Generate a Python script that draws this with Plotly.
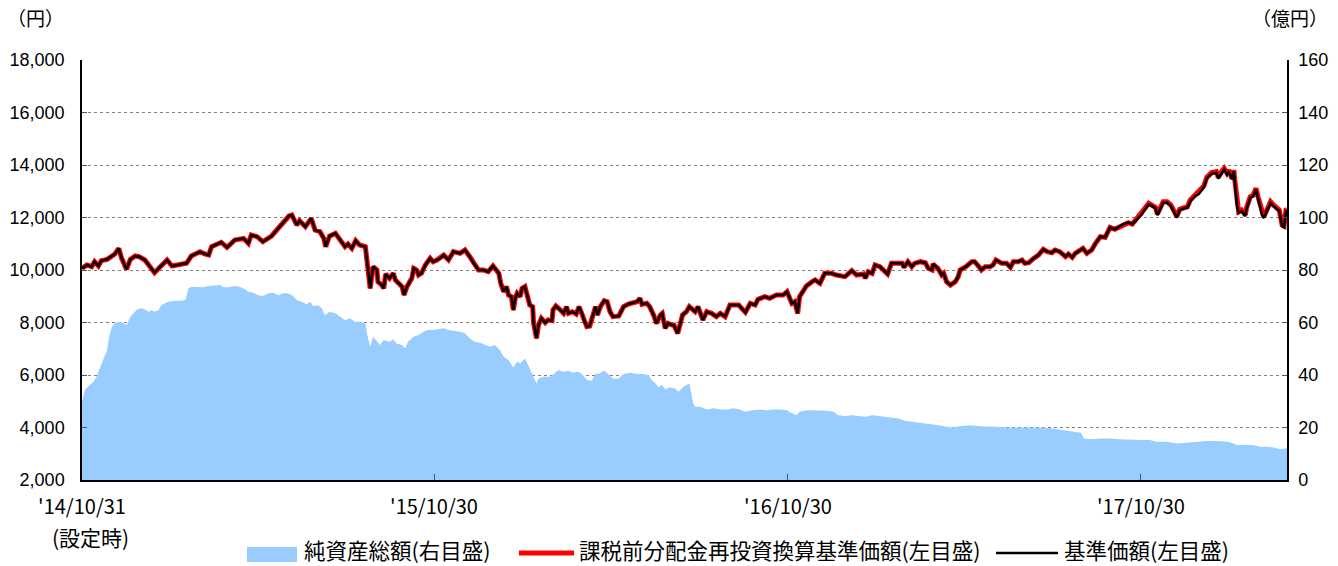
import pandas as pd
import plotly.graph_objects as go

# ---------------- data ----------------
launch_date = "2014-10-31"

# days since launch for the price series
price_days = [
    0, 5, 10, 13, 17, 20, 26, 31, 34, 38, 41, 46, 50, 55, 59, 65, 69, 75, 81, 88,
    93, 98, 108, 113, 122, 127, 131, 134, 144, 150, 158, 167, 172, 175, 181, 187, 196, 205, 214,
    217, 222, 225, 231, 237, 241, 246, 250, 252, 256, 262, 267, 272, 275, 279, 283, 287, 293, 295,
    298, 301, 305, 306, 310, 312, 314, 318, 322, 324, 327, 331, 333, 336, 341, 343, 346, 348, 351,
    355, 360, 363, 367, 370, 374, 379, 384, 391, 396, 401, 405, 410,
    415, 420, 425, 431, 433, 436, 439, 441, 444, 446, 448, 450, 453, 455, 458, 461, 463, 466, 467,
    470, 472, 475, 479, 482, 486, 487, 490, 494, 498, 501, 503, 507, 511, 514, 517, 519, 522, 525,
    528, 531, 533, 536, 540, 543, 546, 549, 555, 558, 560, 565, 568, 574, 577, 579, 584, 587, 591,
    594, 598, 600, 603, 606, 610, 612, 616, 618, 621, 625, 628,
    634, 637, 642, 646, 651, 656, 660, 665, 670, 679, 686, 691, 696, 699, 706, 711, 718, 725, 729,
    734, 737, 740, 742, 749, 755, 758, 763, 768, 775, 780, 789, 796, 801, 808, 810, 813, 817, 820, 825,
    830, 833, 837, 842, 848, 850, 854, 858, 861, 867, 872, 875, 879, 880, 885, 889, 891, 894, 898,
    903, 906, 908, 914, 920, 923, 928, 930, 934, 939, 942, 945, 951, 956, 960, 963, 968, 972, 975,
    979, 984, 989, 994, 998, 1003, 1006, 1011, 1017, 1020, 1024, 1027, 1030, 1035, 1039,
    1044, 1048, 1053, 1058, 1063, 1068, 1072, 1077, 1082, 1086,
    1091, 1096, 1099, 1103, 1106, 1110, 1112, 1115, 1118, 1122, 1126, 1129, 1132, 1135, 1139, 1143,
    1146, 1151, 1155, 1160, 1163, 1168, 1173, 1175, 1179, 1181, 1184, 1186, 1189, 1191, 1192, 1194,
    1196, 1199, 1203, 1204, 1208, 1211, 1214, 1216, 1220, 1222, 1226, 1229, 1232, 1236, 1238, 1241,
    1243, 1245, 1246,
]

# 課税前分配金再投資換算基準価額 (円)
reinvested_price = [
    10063, 10190, 10127, 10317, 10152, 10355, 10406, 10533, 10609, 10825, 10444, 10025, 10406, 10533,
    10508, 10381, 10190, 9898, 10127, 10381, 10152, 10190, 10254, 10533, 10698, 10609, 10571, 10889,
    11054, 10863, 11143, 11206, 11016, 11333, 11270, 11079, 11295, 11676, 12057,
    12095, 11714, 11879, 11650, 11968, 11523, 11460, 11206, 10889, 11295, 11396, 11143, 10889, 10990,
    10825, 11117, 10952, 10889, 10317, 9301, 10127, 10000, 9555, 9428, 9301, 9847, 9682, 9873, 9619,
    9492, 9365, 9047, 9365, 9682, 10063, 10000, 9809, 9873, 10190, 10444, 10317, 10381, 10444, 10571,
    10381, 10698, 10635, 10762, 10508, 10254, 10000,
    10000, 9936, 10152, 9873, 9492, 9174, 9365, 9047, 8984, 8476, 8920, 9111, 8984, 9301, 9365, 8920,
    8666, 8603, 7968, 7397, 7905, 8158, 7993, 8095, 8070, 8476, 8628, 8501, 8349, 8603, 8349, 8412,
    8324, 8603, 8349, 8095, 7841, 7866, 8222, 8603, 8286, 8603, 8832, 8793, 8412, 8222, 8247, 8501,
    8603, 8705, 8730, 8793, 8920, 8692, 8730, 8603, 8286, 7968, 8286, 8349, 7778, 7968, 7905, 7905,
    7587, 7841, 8286, 8412, 8603,
    8412, 8603, 8095, 8412, 8349, 8222, 8349, 8222, 8666, 8666, 8387, 8730, 8666, 8882, 8984, 8920,
    9047, 9047, 9174, 8730, 8793, 8349, 8984, 9390, 9555, 9619, 9492, 9873, 9873, 9809, 9746, 9974,
    9809, 9847, 9682, 9936, 9873, 10190, 10127,
    9974, 9847, 10254, 10254, 10254, 10101, 10317, 10127, 10254, 10317, 10279, 10063, 10000, 10228,
    10063, 9809, 9873, 9555, 9428, 9555, 9746, 10000, 10127, 10317, 10317, 10101, 10000, 10127, 10127,
    10190, 10381, 10254, 10254, 10101, 10317, 10317, 10381, 10254, 10279, 10444, 10571, 10787, 10698,
    10660, 10762, 10698, 10508, 10609, 10482, 10635, 10698, 10825, 10635,
    10762, 11016, 11270, 11244, 11625, 11549, 11625, 11752, 11803, 11752,
    11968, 12158, 12349, 12539, 12476, 12387, 12133, 12349, 12603, 12603, 12476, 12260, 12031, 12311,
    12387, 12412, 12666, 12857, 12946, 13200, 13530, 13708, 13746, 13530, 13784, 13873, 13682, 13809,
    13492, 13809, 13428, 12539, 12222, 12285, 12095, 12349, 12793, 12857, 13111, 12793, 12158, 12031,
    12349, 12603, 12476, 12349, 12285, 11714, 11676, 12285, 12300,
]

# 基準価額 (円): identical to the reinvested series until the last months, where it sits slightly lower
base_price_tail = [
    11930, 12120, 12310, 12500, 12440, 12350, 12090, 12310, 12560, 12560, 12430, 12220, 11990, 12270,
    12350, 12370, 12620, 12810, 12900, 13150, 13480, 13660, 13700, 13480, 13740, 13830, 13640, 13760,
    13450, 13760, 13380, 12490, 12170, 12240, 12050, 12300, 12750, 12810, 13060, 12750, 12110, 11980,
    12300, 12560, 12430, 12300, 12240, 11670, 11630, 12240, 12250,
]
base_price = reinvested_price[:len(reinvested_price) - len(base_price_tail)] + base_price_tail

# days since launch for net assets
asset_days = [
    0, 3, 7, 12, 15, 19, 22, 26, 28, 31, 34, 38, 43, 46, 50, 53, 57, 62, 65, 69, 72, 75, 79, 82, 89,
    96, 101, 107, 110, 113, 120, 125, 131, 138, 143, 146, 151, 158, 163, 169, 172, 177, 182, 187, 193,
    198, 203, 208,
    212, 217, 222, 227, 232, 236, 239, 244, 248, 251, 256, 262, 267, 272, 277, 282, 287, 293, 295, 298,
    301, 305, 308, 312, 318, 322, 325, 331, 334, 337, 343, 348, 353, 358, 363, 368, 374, 379, 384, 391,
    396, 401, 406,
    412, 417, 422, 427, 432, 436, 441, 446, 450, 453, 458, 463, 467, 470, 472, 477, 484, 489, 493, 498,
    503, 508, 513, 517, 522, 527, 531, 534, 540, 544, 549, 555, 560, 567, 574, 580, 586, 589, 593, 596,
    600, 603, 608, 613, 617, 622, 628,
    632, 634, 639, 646, 653, 660, 667, 674, 680, 686, 693, 701, 708, 715, 722, 729, 734, 739, 742, 749,
    756, 763, 770, 777, 782, 789, 796, 803, 810, 817, 825,
    836, 843, 851, 860, 868, 877, 886, 894, 899, 908, 918, 929, 939, 946, 956, 967, 977, 987, 994, 1001,
    1008, 1015, 1023, 1033, 1036, 1043, 1053, 1063, 1073, 1084, 1094, 1104, 1111, 1122, 1132, 1142,
    1153, 1163, 1173, 1184, 1191, 1194, 1204, 1211, 1218, 1225, 1232, 1239, 1246,
]

# 純資産総額 (億円)
net_assets = [
    29.8, 34.3, 35.8, 37.4, 39.3, 43.1, 46.3, 49.5, 54.6, 58.4, 59.7, 60.3, 59.7, 59.0, 62.2, 63.5,
    65.0, 65.4, 65.0, 64.1, 64.7, 64.1, 64.7, 66.6, 67.9, 68.3, 68.3, 68.6, 73.0, 73.6, 73.6, 73.4,
    73.9, 74.3, 74.3, 73.4, 73.4, 73.9, 73.6, 72.6, 71.7, 71.3, 70.4, 70.1, 71.1, 71.3, 70.4, 71.1,
    71.1, 70.5, 68.6, 67.9, 67.0, 67.9, 66.3, 66.6, 65.4, 62.8, 64.1, 63.5, 62.2, 60.9, 61.6, 60.3,
    60.3, 59.7, 55.2, 50.8, 54.6, 52.7, 51.4, 53.3, 52.7, 53.6, 52.0, 51.4, 50.1, 52.7, 54.6, 55.2,
    56.5, 57.1, 57.1, 57.4, 57.8, 57.1, 56.9, 56.5, 55.9, 53.9, 52.7,
    52.3, 51.4, 50.8, 51.4, 49.5, 47.0, 45.7, 42.9, 45.1, 44.4, 46.3, 42.5, 39.3, 36.8, 38.7, 39.3,
    39.3, 40.9, 41.9, 41.2, 41.6, 40.9, 41.2, 40.4, 38.1, 37.8, 40.6, 40.4, 41.6, 40.4, 38.7, 38.7,
    40.4, 40.9, 40.4, 40.4, 40.0, 38.1, 36.8, 35.3, 36.2, 34.5, 35.3, 34.9, 33.6, 35.5, 36.8,
    29.2, 27.9, 27.9, 26.9, 27.3, 26.9, 26.9, 27.3, 26.9, 26.0, 26.6, 26.9, 26.6, 26.9, 26.9, 26.6,
    25.4, 24.7, 26.0, 26.6, 26.6, 26.6, 26.4, 26.0, 24.7, 24.4, 24.7, 24.4, 24.1, 24.7, 24.4,
    23.8, 23.5, 22.6, 22.2, 21.8, 21.3, 20.9, 20.3, 20.0, 20.5, 20.9, 20.5, 20.5, 20.3, 20.0, 20.0,
    20.0, 20.0, 20.0, 19.7, 19.3, 18.8, 18.4, 18.0, 15.8, 15.5, 15.8, 15.8, 15.5, 15.2, 15.2, 15.2,
    14.6, 14.6, 13.9, 14.2, 14.6, 14.9, 14.9, 14.6, 13.9, 13.3, 13.3, 13.3, 12.7, 12.7, 12.4, 11.7, 12.1,
]

tick_dates = ["2014-10-31", "2015-10-30", "2016-10-30", "2017-10-30"]
tick_labels = ["'14/10/31", "'15/10/30", "'16/10/30", "'17/10/30"]
axis_end_date = "2018-03-30"

series_names = ["純資産総額(右目盛)", "課税前分配金再投資換算基準価額(左目盛)", "基準価額(左目盛)"]

assert len(price_days) == len(reinvested_price) == len(base_price)
assert len(asset_days) == len(net_assets)

start = pd.Timestamp(launch_date)
price_dates = [start + pd.Timedelta(days=d) for d in price_days]
asset_dates = [start + pd.Timedelta(days=d) for d in asset_days]

# ---------------- figure ----------------
W, H = 1338, 566
L, R, T, B = 82, 1287, 60, 480
def px(x):
    return (x - L) / (R - L)
def py(y):
    return (B - y) / (B - T)

NUM_FONT = "Liberation Sans, Arial, sans-serif"
JP_FONT = "Noto Sans CJK JP, sans-serif"

fig = go.Figure()
# base axis 'y' = right axis (億円); overlay 'y2' = left axis (円) so that lines draw above the area
fig.add_trace(go.Scatter(
    x=asset_dates, y=net_assets, name=series_names[0], mode="lines",
    line=dict(width=0, color="#99CCFF"), fill="tozeroy", fillcolor="#99CCFF",
    yaxis="y", showlegend=False))
fig.add_trace(go.Scatter(
    x=price_dates, y=reinvested_price, name=series_names[1], mode="lines",
    line=dict(width=5, color="#FF0000"), yaxis="y2", showlegend=False))
fig.add_trace(go.Scatter(
    x=price_dates, y=base_price, name=series_names[2], mode="lines",
    line=dict(width=2.5, color="#000000"), yaxis="y2", showlegend=False))

fig.update_layout(
    width=W, height=H,
    margin=dict(l=L, r=W - R, t=T, b=H - B, autoexpand=False),
    paper_bgcolor="white", plot_bgcolor="white",
    xaxis=dict(
        type="date", range=[launch_date, axis_end_date],
        tickmode="array", tickvals=tick_dates, ticktext=tick_labels,
        ticks="inside", ticklen=6, tickcolor="#555555", tickwidth=1,
        showline=True, linecolor="#000000", linewidth=1.5,
        showgrid=False, zeroline=False, automargin=False,
        tickfont=dict(family=JP_FONT, size=20, color="#000000"),
        ticklabelstandoff=8,
    ),
    yaxis=dict(
        side="right", range=[0, 160], tickmode="linear", tick0=0, dtick=20,
        ticks="inside", ticklen=5, tickcolor="#555555",
        showline=True, linecolor="#000000", linewidth=1.5,
        showgrid=True, gridcolor="#7f7f7f", griddash="dot", gridwidth=1,
        zeroline=False, automargin=False,
        tickfont=dict(family=NUM_FONT, size=18, color="#000000"),
        ticklabelstandoff=6,
    ),
    yaxis2=dict(
        overlaying="y", side="left", range=[2000, 18000], tickmode="linear",
        tick0=2000, dtick=2000, tickformat=",d",
        ticks="inside", ticklen=5, tickcolor="#555555",
        showline=True, linecolor="#000000", linewidth=1.5,
        showgrid=False, zeroline=False, automargin=False,
        tickfont=dict(family=NUM_FONT, size=18, color="#000000"),
        ticklabelstandoff=12,
    ),
    font=dict(family=JP_FONT, color="#000000"),
)

annotations = [
    dict(text="（円）", x=px(35), y=py(18), xanchor="center", yanchor="middle",
         font=dict(family=JP_FONT, size=19)),
    dict(text="（億円）", x=px(1290), y=py(18), xanchor="center", yanchor="middle",
         font=dict(family=JP_FONT, size=19)),
    dict(text="(設定時)", x=px(90), y=py(537), xanchor="center", yanchor="middle",
         font=dict(family=JP_FONT, size=21)),
    dict(text=series_names[0], x=px(302), y=py(549), xanchor="left", yanchor="middle",
         font=dict(family=JP_FONT, size=21.5)),
    dict(text=series_names[1], x=px(577), y=py(549), xanchor="left", yanchor="middle",
         font=dict(family=JP_FONT, size=21.5)),
    dict(text=series_names[2], x=px(1062), y=py(549), xanchor="left", yanchor="middle",
         font=dict(family=JP_FONT, size=21.5)),
]
for a in annotations:
    a.update(xref="paper", yref="paper", showarrow=False)
fig.update_layout(annotations=annotations)

shapes = [
    dict(type="rect", x0=px(247), x1=px(297), y0=py(562), y1=py(547),
         fillcolor="#99CCFF", line=dict(width=0)),
    dict(type="line", x0=px(519), x1=px(574), y0=py(553), y1=py(553),
         line=dict(color="#FF0000", width=5)),
    dict(type="line", x0=px(996), x1=px(1058), y0=py(553), y1=py(553),
         line=dict(color="#000000", width=2.5)),
]
for s in shapes:
    s.update(xref="paper", yref="paper")
fig.update_layout(shapes=shapes)

fig.write_html(
    "out.html",
    config={"displayModeBar": False},
    post_script="document.body.style.margin='0';document.body.style.overflow='hidden';",
)
